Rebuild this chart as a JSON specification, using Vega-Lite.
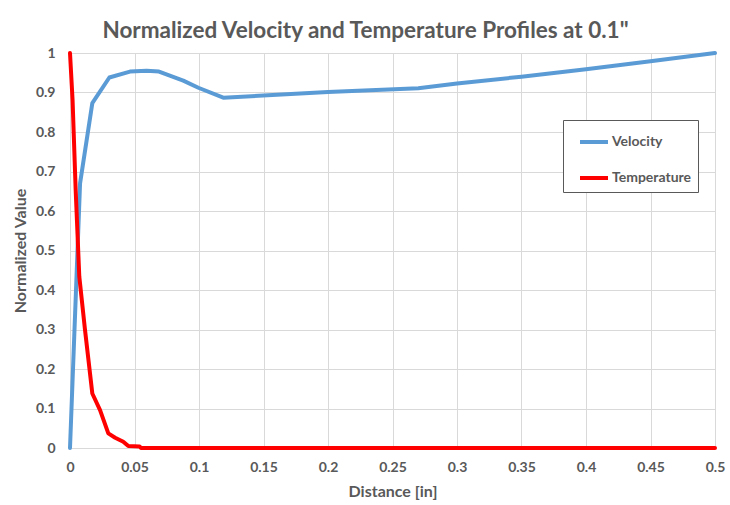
{
  "$schema": "https://vega.github.io/schema/vega-lite/v6.json",
  "width": 645,
  "height": 395,
  "autosize": {"type": "none"},
  "padding": {"left": 70, "top": 53, "right": 15, "bottom": 57},
  "background": "white",
  "title": {
    "text": "Normalized Velocity and Temperature Profiles at 0.1\"",
    "font": "Lato",
    "fontSize": 22.5,
    "fontWeight": "bold",
    "color": "#595959",
    "anchor": "middle",
    "dx": -27,
    "offset": 4
  },
  "config": {
    "view": {"stroke": null},
    "axis": {
      "labelFont": "Lato",
      "labelFontWeight": "bold",
      "labelFontSize": 14,
      "labelColor": "#595959",
      "titleFont": "Lato",
      "titleFontWeight": "bold",
      "titleFontSize": 16,
      "titleColor": "#595959",
      "gridColor": "#d9d9d9",
      "gridWidth": 1,
      "domainColor": "#d9d9d9",
      "ticks": false,
      "labelFlush": false
    }
  },
  "data": {
    "values": [
      {"x": 0, "y": 0, "s": "Velocity"},
      {"x": 0.0078, "y": 0.67, "s": "Velocity"},
      {"x": 0.0173, "y": 0.873, "s": "Velocity"},
      {"x": 0.0305, "y": 0.938, "s": "Velocity"},
      {"x": 0.0465, "y": 0.953, "s": "Velocity"},
      {"x": 0.0594, "y": 0.955, "s": "Velocity"},
      {"x": 0.069, "y": 0.953, "s": "Velocity"},
      {"x": 0.0878, "y": 0.93, "s": "Velocity"},
      {"x": 0.0995, "y": 0.912, "s": "Velocity"},
      {"x": 0.1188, "y": 0.887, "s": "Velocity"},
      {"x": 0.2, "y": 0.901, "s": "Velocity"},
      {"x": 0.27, "y": 0.911, "s": "Velocity"},
      {"x": 0.3, "y": 0.923, "s": "Velocity"},
      {"x": 0.35, "y": 0.94, "s": "Velocity"},
      {"x": 0.4, "y": 0.959, "s": "Velocity"},
      {"x": 0.45, "y": 0.979, "s": "Velocity"},
      {"x": 0.5, "y": 1.0, "s": "Velocity"},
      {"x": 0, "y": 1.0, "s": "Temperature"},
      {"x": 0.002, "y": 0.88, "s": "Temperature"},
      {"x": 0.0044, "y": 0.653, "s": "Temperature"},
      {"x": 0.0072, "y": 0.434, "s": "Temperature"},
      {"x": 0.0116, "y": 0.3, "s": "Temperature"},
      {"x": 0.0173, "y": 0.138, "s": "Temperature"},
      {"x": 0.0233, "y": 0.096, "s": "Temperature"},
      {"x": 0.0297, "y": 0.037, "s": "Temperature"},
      {"x": 0.035, "y": 0.026, "s": "Temperature"},
      {"x": 0.0413, "y": 0.016, "s": "Temperature"},
      {"x": 0.0452, "y": 0.005, "s": "Temperature"},
      {"x": 0.054, "y": 0.004, "s": "Temperature"},
      {"x": 0.055, "y": 0, "s": "Temperature"},
      {"x": 0.1, "y": 0, "s": "Temperature"},
      {"x": 0.3, "y": 0, "s": "Temperature"},
      {"x": 0.5, "y": 0, "s": "Temperature"}
    ]
  },
  "mark": {"type": "line", "strokeWidth": 4, "strokeJoin": "round", "strokeCap": "round"},
  "encoding": {
    "x": {
      "field": "x",
      "type": "quantitative",
      "scale": {"domain": [0, 0.5], "nice": false},
      "axis": {
        "title": "Distance [in]",
        "values": [0, 0.05, 0.1, 0.15, 0.2, 0.25, 0.3, 0.35, 0.4, 0.45, 0.5],
        "format": "~g",
        "labelPadding": 12,
        "titlePadding": 9
      }
    },
    "y": {
      "field": "y",
      "type": "quantitative",
      "scale": {"domain": [0, 1], "nice": false},
      "axis": {
        "title": "Normalized Value",
        "values": [0, 0.1, 0.2, 0.3, 0.4, 0.5, 0.6, 0.7, 0.8, 0.9, 1],
        "format": "~g",
        "labelPadding": 15,
        "titlePadding": 7,
        "domain": false
      }
    },
    "color": {
      "field": "s",
      "type": "nominal",
      "scale": {"domain": ["Velocity", "Temperature"], "range": ["#5b9bd5", "#ff0000"]},
      "legend": {
        "title": null,
        "orient": "none",
        "legendX": 493,
        "legendY": 67,
        "symbolType": "stroke",
        "symbolStrokeWidth": 4,
        "symbolSize": 784,
        "symbolOffset": 9,
        "labelOffset": 2,
        "labelFont": "Lato",
        "labelFontWeight": "bold",
        "labelFontSize": 14,
        "labelColor": "#595959",
        "rowPadding": 12,
        "padding": 6,
        "strokeColor": "#595959",
        "fillColor": "white"
      }
    },
    "order": {"field": "x", "type": "quantitative"}
  }
}
